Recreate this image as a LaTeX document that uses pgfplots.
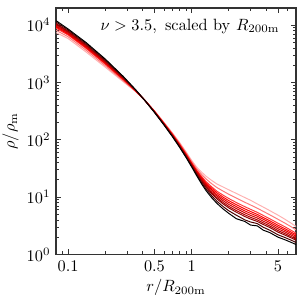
\documentclass[border=0pt]{standalone}
\usepackage{pgfplots}
\usepackage{pgfplotstable}
\pgfplotsset{compat=1.18}
\definecolor{c0}{HTML}{000000}
\definecolor{c1}{HTML}{4A0000}
\definecolor{c2}{HTML}{8B0000}
\definecolor{c3}{HTML}{B00000}
\definecolor{c4}{HTML}{D00000}
\definecolor{c5}{HTML}{E80000}
\definecolor{c6}{HTML}{FF0000}
\definecolor{c7}{HTML}{FF3838}
\definecolor{c8}{HTML}{FF7878}
\definecolor{c9}{HTML}{FFB0B0}
\pgfplotstableread{
r c0 c1 c2 c3 c4 c5 c6 c7 c8 c9
0.08 12000 11380 10740 10400 10000 9620 9270 8870 8150 7430
0.1 8600 8240 7870 7660 7430 7190 6980 6750 6300 5850
0.14 4980 4780 4560 4440 4310 4180 4060 3920 3660 3400
0.2 2570 2480 2380 2330 2270 2210 2150 2090 1970 1850
0.28 1274 1245 1213 1194 1175 1156 1135 1114 1072 1030
0.35 760 753 746 741 736 731 728 721 711 700
0.42 481 481 482 482 483 483 484 485 487 489
0.5 301 303 306 308 309 310 313 314 318 322
0.6 179 181 184 185 187 189 190 192 196 200
0.7 113 115 117 118 120 121 123 125 128 132
0.8 73.6 75.2 77.1 78.2 79.4 80.7 81.8 83.4 86.5 89.7
0.9 49.3 50.6 52.0 52.8 53.8 54.8 55.8 57.0 59.4 62.1
1.0 33.7 34.8 35.8 36.5 37.2 38.0 38.9 39.8 41.7 43.9
1.1 23.5 24.4 25.5 26.1 26.9 27.6 28.4 29.3 31.2 33.3
1.2 17.2 18.1 19.2 19.8 20.6 21.4 22.2 23.2 25.2 27.5
1.3 13.2 14.1 15.1 15.7 16.4 17.2 18.0 18.9 21.0 23.4
1.45 9.8 10.6 11.5 12.0 12.7 13.5 14.3 15.2 17.2 19.6
1.6 7.80 8.49 9.33 9.84 10.5 11.1 11.9 12.7 14.7 17.0
1.8 6.2 6.82 7.59 8.07 8.67 9.31 9.98 10.8 12.7 15.0
2.0 5.2 5.77 6.47 6.90 7.45 8.04 8.67 9.44 11.2 13.4
2.3 4.2 4.84 5.45 5.83 6.31 6.82 7.38 8.05 9.62 11.6
2.7 3.75 4.00 4.58 4.91 5.31 5.74 6.22 6.79 8.11 9.8
3.0 3.25 3.68 4.14 4.44 4.80 5.19 5.61 6.12 7.29 8.8
3.4 3.15 3.45 3.76 4.01 4.32 4.65 4.99 5.42 6.40 7.6
3.8 2.65 2.98 3.33 3.55 3.81 4.10 4.41 4.79 5.64 6.7
4.3 2.4 2.64 2.94 3.13 3.36 3.60 3.86 4.18 4.90 5.8
5.0 2.0 2.20 2.45 2.61 2.80 3.01 3.23 3.50 4.10 4.85
5.7 1.80 1.97 2.17 2.30 2.46 2.63 2.81 3.03 3.51 4.1
6.4 1.62 1.77 1.94 2.04 2.17 2.31 2.45 2.63 3.03 3.5
7.2 1.45 1.57 1.71 1.79 1.90 2.01 2.13 2.27 2.58 2.95
}\profiles
\begin{document}
\begin{tikzpicture}
\begin{axis}[
  scale only axis,
  width=147pt, height=151pt,
  xmode=log, ymode=log,
  xmin=0.08, xmax=7, ymin=1, ymax=20000,
  xtick={0.1,0.5,1,5},
  xticklabels={0.1,0.5,1,5},
  minor xtick={0.08,0.09,0.2,0.3,0.4,0.6,0.7,0.8,0.9,2,3,4,6,7},
  ytick={1,10,100,1000,10000},
  tick align=inside,
  xtick pos=both, ytick pos=both,
  major tick length=3.2pt, minor tick length=1.8pt,
  every tick/.style={black!80, line width=0.5pt},
  axis line style={black!80, line width=0.8pt},
  xlabel={$r/R_{200\mathrm{m}}$},
  ylabel={$\rho/\rho_{\mathrm{m}}$},
  xlabel style={yshift=2pt},
  ylabel style={yshift=-2pt},
  clip=true,
  every axis plot/.append style={line width=0.6pt},
]
\addplot[c9] table[x=r, y=c9] {\profiles};
\addplot[c8] table[x=r, y=c8] {\profiles};
\addplot[c7] table[x=r, y=c7] {\profiles};
\addplot[c6] table[x=r, y=c6] {\profiles};
\addplot[c5] table[x=r, y=c5] {\profiles};
\addplot[c4] table[x=r, y=c4] {\profiles};
\addplot[c3] table[x=r, y=c3] {\profiles};
\addplot[c2] table[x=r, y=c2] {\profiles};
\addplot[c1] table[x=r, y=c1] {\profiles};
\addplot[c0] table[x=r, y=c0] {\profiles};
\node[anchor=east] at (rel axis cs:0.955,0.927) {$\nu > 3.5,\ \mathrm{scaled\ by}\ R_{200\mathrm{m}}$};
\end{axis}
\pgfresetboundingbox
\useasboundingbox ([shift={(-34.4pt,-30.7pt)}]current axis.south west) rectangle ([shift={(5.5pt,4.9pt)}]current axis.north east);
\end{tikzpicture}
\end{document}
